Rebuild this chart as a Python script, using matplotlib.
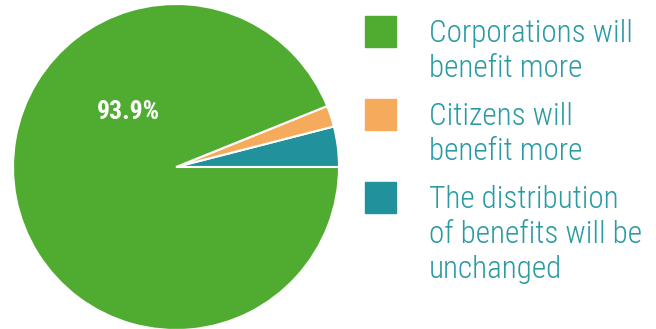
import matplotlib.pyplot as plt
from matplotlib.patches import Rectangle

# data
labels = ["The distribution\nof benefits will be\nunchanged", "Citizens will\nbenefit more", "Corporations will\nbenefit more"]
shares = [4.0, 2.1, 93.9]
colors = ["#21919b", "#f6ab5c", "#4fac31"]
legend_order = [2, 1, 0]
pct_label = "93.9%"

W, H = 656, 329
fig = plt.figure(figsize=(W / 100, H / 100), dpi=100)

# pie, centre at (176,167) px, radius 163 px
cx, cy, r = 176, 167, 163
ax = fig.add_axes([(cx - r) / W, (H - cy - r) / H, 2 * r / W, 2 * r / H])
ax.pie(shares, colors=colors, startangle=0, counterclock=True,
       wedgeprops=dict(edgecolor="white", linewidth=1.5))
ax.set_xlim(-1, 1)
ax.set_ylim(-1, 1)
ax.set_aspect("auto")
ax.text(-0.29, 0.34, pct_label, color="white", fontsize=18.5, fontweight="bold",
        family="Roboto Condensed", ha="center", va="center")

# legend drawn by hand
tops = [16, 99, 182]
for top, i in zip(tops, legend_order):
    fig.patches.append(Rectangle((365 / W, 1 - (top + 31) / H), 31 / W, 31 / H,
                                 transform=fig.transFigure, color=colors[i]))
    fig.text(429 / W, 1 - (top + 3) / H, labels[i], color="#2a9ba3", fontsize=22.4,
             family="Roboto Condensed", fontweight=300, ha="left", va="top",
             linespacing=1.25)

fig.savefig("out.png", dpi=100)
